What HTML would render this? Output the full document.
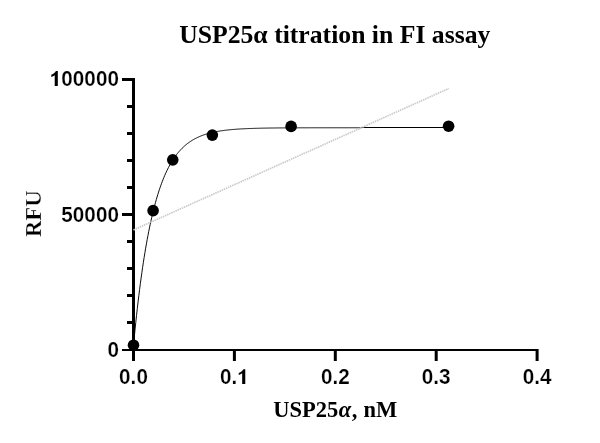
<!DOCTYPE html>
<html><head><meta charset="utf-8"><style>
html,body{margin:0;padding:0;background:#fff;width:600px;height:443px;overflow:hidden}
svg{display:block;will-change:transform}
.t{font-family:"Liberation Sans",sans-serif;font-weight:bold;font-size:20.7px;fill:#000;stroke:#fff;stroke-width:0.2px}
.s{font-family:"Liberation Serif",serif;font-weight:bold;fill:#000}
</style></head><body>
<svg width="600" height="443" viewBox="0 0 600 443">
<rect width="600" height="443" fill="#fff"/>
<text class="s" x="334.75" y="42.5" font-size="25.7" text-anchor="middle">USP25α titration in FI assay</text>
<text class="s" x="273.2" y="417" font-size="22.5">USP25<tspan font-style="italic" dx="0.6">α</tspan><tspan dx="0.6">,</tspan><tspan dx="0.3"> nM</tspan></text>
<text class="s" transform="translate(40.6,213.7) rotate(-90)" font-size="22.7" text-anchor="middle" style="stroke:#fff;stroke-width:0.3px">RFU</text>
<path d="M0.386 0 L0.386 0.716 L0.295 0.716 C0.262 0.650 0.190 0.575 0.071 0.537 L0.071 0.430 C0.130 0.450 0.190 0.480 0.236 0.515 L0.236 0 Z" transform="translate(49.83,85.9) scale(20.7,-20.7)" fill="#000"/>
<text class="t" x="0" y="0" transform="translate(61.34,85.9) scale(1,1.04)">0</text>
<text class="t" x="0" y="0" transform="translate(72.85,85.9) scale(1,1.04)">0</text>
<text class="t" x="0" y="0" transform="translate(84.36,85.9) scale(1,1.04)">0</text>
<text class="t" x="0" y="0" transform="translate(95.88,85.9) scale(1,1.04)">0</text>
<text class="t" x="0" y="0" transform="translate(107.39,85.9) scale(1,1.04)">0</text>
<text class="t" x="0" y="0" transform="translate(61.34,221.6) scale(1,1.04)">5</text>
<text class="t" x="0" y="0" transform="translate(72.85,221.6) scale(1,1.04)">0</text>
<text class="t" x="0" y="0" transform="translate(84.36,221.6) scale(1,1.04)">0</text>
<text class="t" x="0" y="0" transform="translate(95.88,221.6) scale(1,1.04)">0</text>
<text class="t" x="0" y="0" transform="translate(107.39,221.6) scale(1,1.04)">0</text>
<text class="t" x="0" y="0" transform="translate(107.39,356.5) scale(1,1.04)">0</text>
<text class="t" x="0" y="0" transform="translate(119.11,384.0) scale(1,1.04)">0</text>
<text class="t" x="0" y="0" transform="translate(130.62,384.0) scale(1,1.04)">.</text>
<text class="t" x="0" y="0" transform="translate(136.38,384.0) scale(1,1.04)">0</text>
<text class="t" x="0" y="0" transform="translate(220.01,384.0) scale(1,1.04)">0</text>
<text class="t" x="0" y="0" transform="translate(231.52,384.0) scale(1,1.04)">.</text>
<path d="M0.386 0 L0.386 0.716 L0.295 0.716 C0.262 0.650 0.190 0.575 0.071 0.537 L0.071 0.430 C0.130 0.450 0.190 0.480 0.236 0.515 L0.236 0 Z" transform="translate(237.28,384.0) scale(20.7,-20.7)" fill="#000"/>
<text class="t" x="0" y="0" transform="translate(320.91,384.0) scale(1,1.04)">0</text>
<text class="t" x="0" y="0" transform="translate(332.42,384.0) scale(1,1.04)">.</text>
<text class="t" x="0" y="0" transform="translate(338.18,384.0) scale(1,1.04)">2</text>
<text class="t" x="0" y="0" transform="translate(421.81,384.0) scale(1,1.04)">0</text>
<text class="t" x="0" y="0" transform="translate(433.32,384.0) scale(1,1.04)">.</text>
<text class="t" x="0" y="0" transform="translate(439.08,384.0) scale(1,1.04)">3</text>
<text class="t" x="0" y="0" transform="translate(522.71,384.0) scale(1,1.04)">0</text>
<text class="t" x="0" y="0" transform="translate(534.22,384.0) scale(1,1.04)">.</text>
<text class="t" x="0" y="0" transform="translate(539.98,384.0) scale(1,1.04)">4</text>
<path d="M133.50,345.18 L134.26,337.30 L135.02,329.71 L135.78,322.39 L136.54,315.34 L137.30,308.54 L138.06,301.99 L138.82,295.68 L139.58,289.59 L140.34,283.73 L141.10,278.07 L141.86,272.63 L142.62,267.38 L143.38,262.32 L144.14,257.44 L144.90,252.74 L145.66,248.21 L146.42,243.85 L147.18,239.64 L147.94,235.59 L148.70,231.68 L149.46,227.91 L150.22,224.28 L150.98,220.79 L151.74,217.42 L152.50,214.17 L153.26,211.04 L154.02,208.02 L154.78,205.11 L155.54,202.31 L156.30,199.60 L157.06,197.00 L157.82,194.49 L158.58,192.07 L159.34,189.74 L160.10,187.50 L160.86,185.33 L161.62,183.24 L162.38,181.23 L163.14,179.30 L163.90,177.43 L164.66,175.63 L165.42,173.89 L166.18,172.22 L166.94,170.61 L167.70,169.06 L168.46,167.56 L169.22,166.12 L169.98,164.73 L170.74,163.39 L171.50,162.10 L172.26,160.85 L173.02,159.65 L173.78,158.50 L174.54,157.38 L175.30,156.31 L176.06,155.27 L176.82,154.28 L177.58,153.31 L178.34,152.39 L179.10,151.50 L179.86,150.64 L180.62,149.81 L181.38,149.01 L182.14,148.24 L182.90,147.49 L183.66,146.78 L184.42,146.09 L185.18,145.42 L185.94,144.78 L186.70,144.17 L187.46,143.57 L188.22,143.00 L188.98,142.45 L189.74,141.91 L190.50,141.40 L191.26,140.91 L192.02,140.43 L192.78,139.97 L193.54,139.53 L194.30,139.10 L195.06,138.69 L195.82,138.29 L196.58,137.91 L197.34,137.54 L198.10,137.19 L198.86,136.85 L199.62,136.52 L200.38,136.20 L201.14,135.89 L201.90,135.60 L202.66,135.31 L203.42,135.04 L204.18,134.77 L204.94,134.52 L205.70,134.27 L206.46,134.04 L207.22,133.81 L207.98,133.59 L208.74,133.38 L209.50,133.18 L210.26,132.98 L211.02,132.79 L211.78,132.61 L212.54,132.43 L213.30,132.26 L214.06,132.10 L214.82,131.94 L215.58,131.79 L216.34,131.64 L217.10,131.50 L217.86,131.37 L218.62,131.23 L219.38,131.11 L220.14,130.99 L220.90,130.87 L221.66,130.76 L222.42,130.65 L223.18,130.54 L223.94,130.44 L224.70,130.34 L225.46,130.25 L226.22,130.16 L226.98,130.07 L227.74,129.99 L228.50,129.91 L229.26,129.83 L230.02,129.75 L230.78,129.68 L231.54,129.61 L232.30,129.54 L233.06,129.48 L233.82,129.42 L234.58,129.36 L235.34,129.30 L236.10,129.24 L236.86,129.19 L237.62,129.13 L238.38,129.08 L239.14,129.04 L239.90,128.99 L240.66,128.94 L241.42,128.90 L242.18,128.86 L242.94,128.82 L243.70,128.78 L244.46,128.74 L245.22,128.71 L245.98,128.67 L246.74,128.64 L247.50,128.61 L248.26,128.58 L249.02,128.55 L249.78,128.52 L250.54,128.49 L251.30,128.46 L252.06,128.44 L252.82,128.41 L253.58,128.39 L254.34,128.36 L255.10,128.34 L255.86,128.32 L256.62,128.30 L257.38,128.28 L258.14,128.26 L258.90,128.24 L259.66,128.22 L260.42,128.21 L261.18,128.19 L261.94,128.18 L262.70,128.16 L263.46,128.14 L264.22,128.13 L264.98,128.12 L265.74,128.10 L266.50,128.09 L267.26,128.08 L268.02,128.07 L268.78,128.05 L269.54,128.04 L270.30,128.03 L271.06,128.02 L271.82,128.01 L272.58,128.00 L273.34,127.99 L274.10,127.99 L274.86,127.98 L275.62,127.97 L276.38,127.96 L277.14,127.95 L277.90,127.95 L278.66,127.94 L279.42,127.93 L280.18,127.93 L280.94,127.92 L281.70,127.91 L282.46,127.91 L283.22,127.90 L283.98,127.90 L284.74,127.89 L285.50,127.89 L286.26,127.88 L287.02,127.88 L287.78,127.87 L288.54,127.87 L289.30,127.86 L290.06,127.86 L290.82,127.85 L291.58,127.85 L292.34,127.85 L293.10,127.84 L293.86,127.84 L294.62,127.84 L295.38,127.83 L296.14,127.83 L296.90,127.83 L297.66,127.83 L298.42,127.82 L299.18,127.82 L299.94,127.82 L300.70,127.81 L301.46,127.81 L302.22,127.81 L302.98,127.81 L303.74,127.81 L304.50,127.80 L305.26,127.80 L306.02,127.80 L306.78,127.80 L307.54,127.80 L308.30,127.79 L309.06,127.79 L309.82,127.79 L310.58,127.79 L311.34,127.79 L312.10,127.79 L312.86,127.79 L313.62,127.78 L314.38,127.78 L315.14,127.78 L315.90,127.78 L316.66,127.78 L317.42,127.78 L318.18,127.78 L318.94,127.78 L319.70,127.78 L320.46,127.77 L321.22,127.77 L321.98,127.77 L322.74,127.77 L323.50,127.77 L324.26,127.77 L325.02,127.77 L325.78,127.77 L326.54,127.77 L327.30,127.77 L328.06,127.77 L328.82,127.77 L329.58,127.77 L330.34,127.77 L331.10,127.76 L331.86,127.76 L332.62,127.76 L333.38,127.76 L334.14,127.76 L334.90,127.76 L335.66,127.76 L336.42,127.76 L337.18,127.76 L337.94,127.76 L338.70,127.76 L339.46,127.76 L340.22,127.76 L340.98,127.76 L341.74,127.76 L342.50,127.76 L343.26,127.76 L344.02,127.76 L344.78,127.76 L345.54,127.76 L346.30,127.76 L347.06,127.76 L347.82,127.76 L348.58,127.76 L349.34,127.76 L350.10,127.76 L350.86,127.76 L351.62,127.76 L352.38,127.76 L353.14,127.76 L353.90,127.75 L354.66,127.75 L355.42,127.75 L356.18,127.75 L356.94,127.75 L357.70,127.75 L358.46,127.75 L359.22,127.75 L359.98,127.75 L360.74,127.75 L361.50,127.75" fill="none" stroke="#000" stroke-width="0.95"/>
<rect x="361.5" y="127" width="87" height="1" fill="#000"/>
<rect x="132" y="78" width="3" height="273" fill="#000"/>
<rect x="132" y="349" width="406" height="2" fill="#000"/>
<rect x="122" y="349" width="12" height="2" fill="#000"/><rect x="127" y="321.0" width="7" height="3" fill="#000"/><rect x="127" y="294.0" width="7" height="3" fill="#000"/><rect x="127" y="267.0" width="7" height="3" fill="#000"/><rect x="127" y="240.0" width="7" height="3" fill="#000"/><rect x="122" y="213.0" width="12" height="3" fill="#000"/><rect x="127" y="186.0" width="7" height="3" fill="#000"/><rect x="127" y="159.0" width="7" height="3" fill="#000"/><rect x="127" y="132.0" width="7" height="3" fill="#000"/><rect x="127" y="105.0" width="7" height="3" fill="#000"/><rect x="122" y="78.0" width="12" height="3" fill="#000"/>
<rect x="132.0" y="349" width="3" height="12" fill="#000"/><rect x="232.9" y="349" width="3" height="12" fill="#000"/><rect x="333.8" y="349" width="3" height="12" fill="#000"/><rect x="434.70000000000005" y="349" width="3" height="12" fill="#000"/><rect x="535.6" y="349" width="3" height="12" fill="#000"/>
<circle cx="133.5" cy="345.2" r="5.8" fill="#000"/>
<circle cx="153.1" cy="210.6" r="5.8" fill="#000"/>
<circle cx="172.75" cy="159.85" r="5.8" fill="#000"/>
<circle cx="212.35" cy="135.1" r="5.8" fill="#000"/>
<circle cx="291.1" cy="126.4" r="5.8" fill="#000"/>
<circle cx="448.6" cy="126.2" r="5.8" fill="#000"/>
<line x1="133.5" y1="229.95" x2="448.8" y2="88.5" stroke="#cacaca" stroke-width="1.7" stroke-dasharray="1.5,0.8"/>
</svg>
</body></html>
